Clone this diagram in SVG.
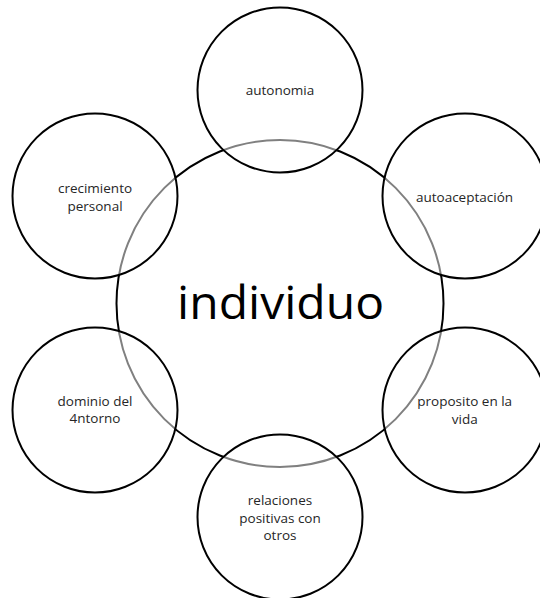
<svg xmlns="http://www.w3.org/2000/svg" width="540" height="598" viewBox="0 0 540 598">
<style>
.bg{fill:#ffffff}
.core{fill:#ffffff;stroke:#000000;stroke-width:2}
.sat{fill:#ffffff;fill-opacity:0.5;stroke:#000000;stroke-width:2}
.lbl{font-family:"Open Sans","Liberation Sans",sans-serif;font-size:13.5px;fill:#262626;text-anchor:middle}
.big{font-family:"Open Sans","Liberation Sans",sans-serif;font-size:46px;fill:#000000;text-anchor:middle}
</style>
<rect class="bg" x="0" y="0" width="540" height="598"/>
<g id="individuo">
<circle class="core" cx="280" cy="303.5" r="163.5"/>
<text class="big" x="280.6" y="319.3" textLength="207" lengthAdjust="spacingAndGlyphs">individuo</text>
</g>
<g id="autonomia">
<circle class="sat" cx="280" cy="90" r="82.5"/>
<text class="lbl" x="280" y="94.5">autonomia</text>
</g>
<g id="autoaceptacion">
<circle class="sat" cx="465" cy="196" r="82.5"/>
<text class="lbl" x="464.5" y="202">autoaceptación</text>
</g>
<g id="proposito">
<circle class="sat" cx="465" cy="410" r="82.5"/>
<text class="lbl" x="464.7" y="406">proposito en la</text>
<text class="lbl" x="464.7" y="423.5">vida</text>
</g>
<g id="relaciones">
<circle class="sat" cx="280" cy="517" r="82.5"/>
<text class="lbl" x="280" y="505">relaciones</text>
<text class="lbl" x="280" y="522.5">positivas con</text>
<text class="lbl" x="280" y="540">otros</text>
</g>
<g id="dominio">
<circle class="sat" cx="95" cy="410" r="82.5"/>
<text class="lbl" x="95" y="405.5">dominio del</text>
<text class="lbl" x="95" y="423">4ntorno</text>
</g>
<g id="crecimiento">
<circle class="sat" cx="95" cy="196" r="82.5"/>
<text class="lbl" x="95" y="192.5">crecimiento</text>
<text class="lbl" x="95" y="210.5">personal</text>
</g>
</svg>
